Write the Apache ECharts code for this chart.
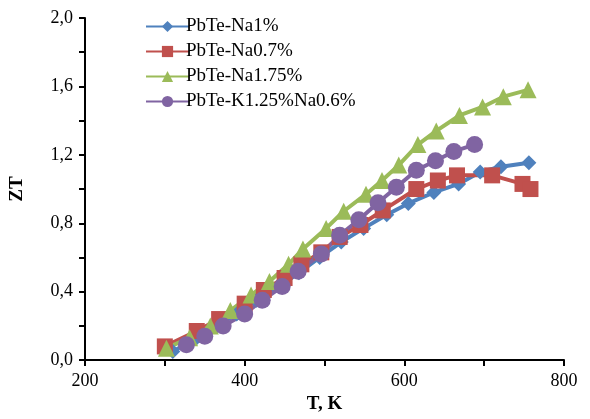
<!DOCTYPE html>
<html>
<head>
<meta charset="utf-8">
<script src="https://cdn.jsdelivr.net/npm/echarts@6/dist/echarts.min.js"></script>
<style>
  html, body { margin: 0; padding: 0; background: #fff; }
  #chart { width: 590px; height: 419px; }
</style>
</head>
<body>
<div id="chart"></div>
<script>
// 系列名称
const seriesNames = ['PbTe-Na1%', 'PbTe-Na0.7%', 'PbTe-Na1.75%', 'PbTe-K1.25%Na0.6%'];

// PbTe-Na1% (蓝色菱形)
const na1T  = [310, 340, 365, 390, 415, 443, 468, 494, 521, 549, 578, 605, 637, 668, 695, 721, 756];
const na1ZT = [0.05, 0.13, 0.20, 0.27, 0.35, 0.43, 0.51, 0.60, 0.69, 0.77, 0.85, 0.916, 0.98, 1.03, 1.10, 1.13, 1.154];

// PbTe-Na0.7% (红色方块)
const na07T  = [300, 340, 368, 400, 424, 450, 471, 496, 519, 545, 573, 615, 642, 666, 710, 748, 758];
const na07ZT = [0.08, 0.17, 0.24, 0.33, 0.41, 0.48, 0.56, 0.63, 0.72, 0.79, 0.875, 1.00, 1.05, 1.08, 1.08, 1.03, 1.00];

// PbTe-Na1.75% (绿色三角)
const na175T  = [302, 331, 357, 382, 408, 431, 455, 473, 502, 524, 552, 572, 593, 617, 640, 669, 698, 724, 755];
const na175ZT = [0.07, 0.13, 0.20, 0.29, 0.38, 0.46, 0.56, 0.65, 0.77, 0.87, 0.97, 1.05, 1.14, 1.26, 1.34, 1.43, 1.48, 1.54, 1.58];

// PbTe-K1.25%Na0.6% (紫色圆点)
const kNaT  = [327, 350, 373, 400, 422, 447, 467, 496, 519, 543, 567, 590, 615, 639, 662, 688];
const kNaZT = [0.09, 0.14, 0.20, 0.27, 0.35, 0.43, 0.52, 0.62, 0.73, 0.82, 0.92, 1.01, 1.11, 1.165, 1.22, 1.26];

const colors = ['#4f81bd', '#c0504d', '#9bbb59', '#8064a2'];
const symbols = ['diamond', 'rect', 'triangle', 'circle'];
const sizes = [15, 16, 17, 17];

function pairs(xs, ys) {
    return xs.map((x, i) => [x, ys[i]]);
}

const dataSets = [
    pairs(na1T, na1ZT),
    pairs(na07T, na07ZT),
    pairs(na175T, na175ZT),
    pairs(kNaT, kNaZT)
];

const font = '"Liberation Serif", "Times New Roman", serif';

const chart = echarts.init(document.getElementById('chart'));
chart.setOption({
    animation: false,
    backgroundColor: '#fff',
    grid: { left: 83, right: 26, top: 18, bottom: 56, containLabel: false },
    legend: {
        orient: 'vertical',
        left: 140,
        top: 12,
        itemWidth: 43,
        itemHeight: 14,
        itemGap: 6,
        data: seriesNames,
        textStyle: { fontFamily: font, fontSize: 19, color: '#000', padding: [0, 0, 0, -8] }
    },
    xAxis: {
        type: 'value',
        min: 200,
        max: 800,
        interval: 100,
        name: 'T, K',
        nameLocation: 'middle',
        nameGap: 30,
        nameTextStyle: { fontFamily: font, fontSize: 19, fontWeight: 'bold', color: '#000' },
        axisLine: { lineStyle: { color: '#000', width: 2 } },
        axisTick: { inside: false, length: 6, lineStyle: { color: '#000', width: 2 } },
        axisLabel: {
            fontFamily: font, fontSize: 18, color: '#000', margin: 12,
            formatter: v => (v % 200 === 0 ? String(v) : '')
        },
        splitLine: { show: false }
    },
    yAxis: {
        type: 'value',
        min: 0,
        max: 2,
        interval: 0.2,
        name: 'ZT',
        nameLocation: 'middle',
        nameGap: 58,
        nameTextStyle: { fontFamily: font, fontSize: 19, fontWeight: 'bold', color: '#000' },
        axisLine: { show: true, lineStyle: { color: '#000', width: 2 } },
        axisTick: { show: true, inside: false, length: 6, lineStyle: { color: '#000', width: 2 } },
        axisLabel: {
            fontFamily: font, fontSize: 18, color: '#000', margin: 12,
            formatter: v => (Math.round(v * 10) % 4 === 0 ? v.toFixed(1).replace('.', ',') : '')
        },
        splitLine: { show: false }
    },
    series: seriesNames.map((name, i) => ({
        name: name,
        type: 'line',
        data: dataSets[i],
        symbol: symbols[i],
        symbolSize: sizes[i],
        showAllSymbol: true,
        smooth: false,
        itemStyle: { color: colors[i] },
        lineStyle: { color: colors[i], width: 4 }
    }))
});
</script>
</body>
</html>
